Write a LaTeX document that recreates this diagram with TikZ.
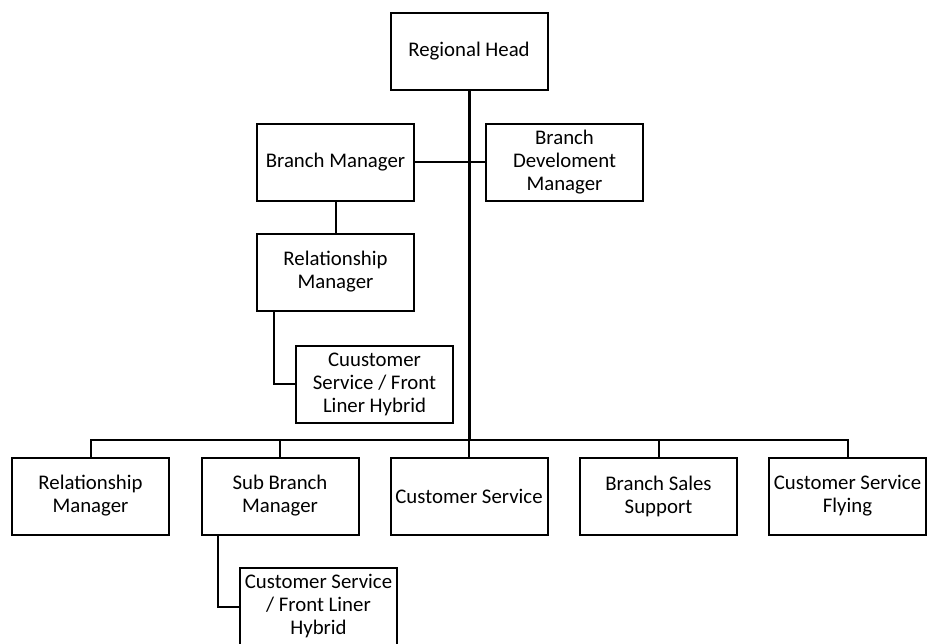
\documentclass[tikz,border=0pt]{standalone}
\usepackage{fontspec}
\setmainfont{Carlito}

\begin{document}
\begin{tikzpicture}[x=1pt,y=-1pt,
  box/.style={draw,line width=2pt,minimum width=157pt,minimum height=77pt,
    inner sep=1pt,align=center,font=\fontsize{20.8}{23}\selectfont},
  link/.style={line width=2pt},
  trunk/.style={line width=3pt}]
\useasboundingbox (0,0) rectangle (928,643);

\node[box] (head) at (469,51) {Regional Head};
\node[box] (bm) at (335.5,162) {Branch Manager};
\node[box] (bdm) at (564.5,162) {Branch\\Develoment\\Manager};
\node[box] (rmup) at (335.5,272) {Relationship\\Manager};
\node[box] (cshyb) at (374.5,384) {Cuustomer\\Service / Front\\Liner Hybrid};

\coordinate (bus) at (469,440);
\node[box] (rm) at (90.5,496) {Relationship\\Manager};
\node[box] (sbm) at (280,496) {Sub Branch\\Manager};
\node[box] (cs) at (469,496) {Customer Service};
\node[box] (bss) at (658.5,496) {Branch Sales\\Support};
\node[box] (csf) at (847.5,496) {Customer Service\\Flying};
\node[box] (sbhyb) at (318.5,606.5) {Customer Service\\/ Front Liner\\Hybrid};

\draw[link] (bm.east) -- (bdm.west);
\draw[link] (bm) -- (rmup);
\draw[link] ([xshift=-62pt]rmup.south) |- (cshyb.west);
\draw[trunk] (head.south) -- (bus);
\draw[link] (rm.north) |- (bus) -| (csf.north);
\draw[link] (sbm.north) -- (sbm.north |- bus);
\draw[link] (cs.north) -- (bus);
\draw[link] (bss.north) -- (bss.north |- bus);
\draw[link] ([xshift=-62pt]sbm.south) |- (sbhyb.west);
\end{tikzpicture}
\end{document}
